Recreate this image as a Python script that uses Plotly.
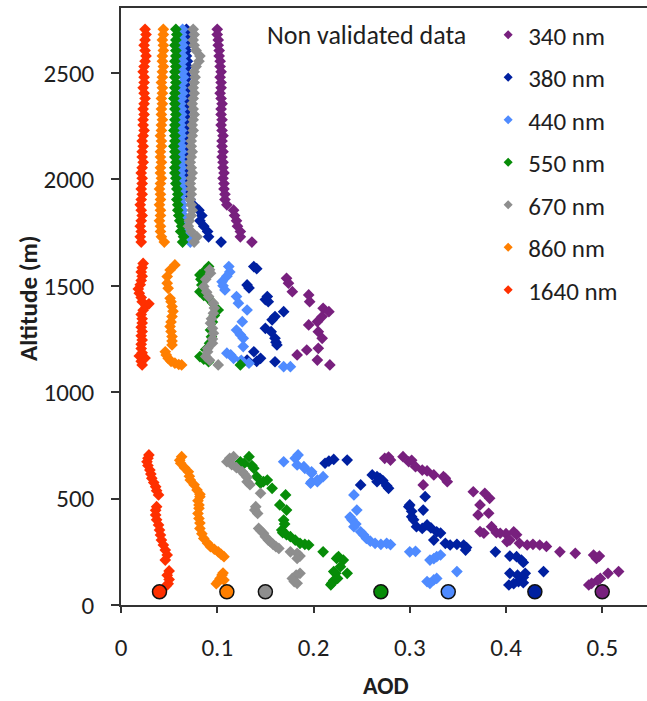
import plotly.graph_objects as go

# ---- Wavelength channels ----------------------------------------------------
WAVELENGTHS = ["340 nm", "380 nm", "440 nm", "550 nm", "670 nm", "860 nm", "1640 nm"]
COLORS = ["#78207e", "#0020a0", "#4f8bff", "#078c08", "#8e8e8e", "#ff7f00", "#ff3000"]

# ---- Lower layer profile: (AOD, altitude m) -----------------------------------
LOW_340 = [(0.274, 689), (0.278, 695), (0.280, 681), (0.293, 697), (0.299, 673), (0.302, 680),
           (0.306, 650), (0.313, 634), (0.318, 630), (0.325, 611), (0.335, 603), (0.339, 579),
           (0.337, 595), (0.314, 564), (0.366, 532), (0.378, 525), (0.383, 501), (0.373, 470),
           (0.371, 423), (0.382, 431), (0.385, 368), (0.373, 345), (0.377, 337), (0.390, 340),
           (0.394, 337), (0.400, 335), (0.408, 344), (0.411, 330), (0.401, 298), (0.404, 305),
           (0.414, 290), (0.422, 282), (0.428, 285), (0.435, 282), (0.442, 275), (0.456, 250),
           (0.472, 243), (0.494, 219), (0.491, 235), (0.497, 230), (0.506, 149), (0.517, 157),
           (0.498, 125), (0.495, 115), (0.489, 102), (0.486, 94)]
LOW_380 = [(0.212, 666), (0.216, 676), (0.221, 684), (0.235, 681), (0.249, 564), (0.261, 611),
           (0.266, 603), (0.269, 595), (0.272, 585), (0.266, 579), (0.276, 560), (0.278, 548),
           (0.316, 509), (0.314, 446), (0.299, 462), (0.300, 470), (0.302, 440), (0.302, 415),
           (0.304, 400), (0.307, 368), (0.313, 360), (0.318, 376), (0.322, 362), (0.328, 344),
           (0.332, 338), (0.325, 305), (0.337, 290), (0.342, 282), (0.349, 285), (0.356, 282),
           (0.359, 270), (0.358, 258), (0.389, 250), (0.404, 230), (0.411, 227), (0.416, 211),
           (0.418, 200), (0.439, 157), (0.404, 149), (0.412, 140), (0.420, 149), (0.418, 130),
           (0.413, 110), (0.408, 100), (0.403, 94), (0.418, 105)]
LOW_440 = [(0.169, 673), (0.184, 705), (0.181, 689), (0.183, 658), (0.190, 650), (0.191, 642),
           (0.198, 626), (0.198, 619), (0.210, 603), (0.204, 579), (0.198, 579), (0.197, 572),
           (0.204, 587), (0.242, 517), (0.245, 446), (0.238, 413), (0.240, 400), (0.242, 368),
           (0.244, 380), (0.249, 344), (0.252, 330), (0.255, 313), (0.259, 300), (0.264, 290),
           (0.270, 285), (0.276, 290), (0.280, 284), (0.300, 250), (0.306, 252), (0.328, 227),
           (0.321, 211), (0.325, 218), (0.332, 235), (0.349, 157), (0.318, 110), (0.325, 118),
           (0.321, 102), (0.328, 125)]
LOW_550 = [(0.133, 697), (0.124, 673), (0.128, 665), (0.138, 642), (0.136, 655), (0.141, 603),
           (0.145, 572), (0.152, 587), (0.148, 580), (0.157, 548), (0.171, 517), (0.165, 470),
           (0.172, 446), (0.169, 399), (0.170, 380), (0.167, 352), (0.168, 340), (0.172, 330),
           (0.176, 321), (0.181, 305), (0.186, 290), (0.191, 285), (0.195, 282), (0.210, 250),
           (0.224, 219), (0.226, 227), (0.231, 211), (0.221, 157), (0.235, 149), (0.223, 149),
           (0.228, 180), (0.219, 102), (0.221, 115), (0.225, 125), (0.218, 95)]
LOW_670 = [(0.113, 689), (0.117, 697), (0.110, 673), (0.115, 660), (0.120, 645), (0.126, 626),
           (0.128, 615), (0.131, 600), (0.131, 579), (0.134, 565), (0.145, 525), (0.140, 462),
           (0.139, 446), (0.142, 430), (0.143, 360), (0.145, 350), (0.148, 337), (0.150, 321),
           (0.153, 305), (0.155, 298), (0.158, 285), (0.161, 274), (0.164, 266), (0.176, 250),
           (0.183, 243), (0.186, 230), (0.183, 219), (0.186, 149), (0.182, 140), (0.178, 125),
           (0.180, 110), (0.183, 102)]
LOW_860 = [(0.063, 697), (0.061, 680), (0.062, 666), (0.066, 645), (0.070, 626), (0.071, 605),
           (0.072, 587), (0.076, 565), (0.079, 540), (0.082, 520), (0.082, 509), (0.080, 490),
           (0.081, 470), (0.081, 454), (0.080, 430), (0.081, 407), (0.082, 385), (0.082, 360),
           (0.084, 335), (0.086, 313), (0.090, 290), (0.093, 274), (0.097, 262), (0.101, 250),
           (0.104, 238), (0.107, 227), (0.106, 150), (0.105, 141), (0.103, 125), (0.101, 110),
           (0.107, 117), (0.099, 100)]
LOW_1640 = [(0.029, 705), (0.028, 690), (0.027, 673), (0.028, 655), (0.030, 634), (0.031, 615),
            (0.032, 595), (0.034, 575), (0.036, 556), (0.037, 537), (0.039, 517), (0.037, 462),
            (0.036, 445), (0.036, 423), (0.037, 400), (0.039, 376), (0.040, 352), (0.041, 329),
            (0.042, 305), (0.044, 282), (0.046, 258), (0.048, 235), (0.046, 211), (0.050, 160),
            (0.048, 140), (0.050, 120), (0.049, 100), (0.047, 90)]

# ---- Middle layer profile: (AOD, altitude m) ----------------------------------
MID_340 = [(0.172, 1535), (0.174, 1512), (0.178, 1472), (0.195, 1457), (0.196, 1425),
           (0.210, 1394), (0.216, 1378), (0.209, 1355), (0.204, 1331), (0.195, 1316),
           (0.205, 1284), (0.209, 1253), (0.205, 1206), (0.193, 1198), (0.183, 1175),
           (0.204, 1151), (0.217, 1128)]
MID_380 = [(0.138, 1590), (0.141, 1580), (0.131, 1504), (0.133, 1490), (0.152, 1449),
           (0.150, 1435), (0.153, 1425), (0.169, 1378), (0.160, 1355), (0.157, 1340),
           (0.150, 1300), (0.156, 1284), (0.160, 1253), (0.161, 1235), (0.162, 1222),
           (0.138, 1190), (0.145, 1159), (0.131, 1151), (0.141, 1145), (0.160, 1143)]
MID_440 = [(0.112, 1590), (0.113, 1565), (0.110, 1545), (0.105, 1519), (0.106, 1500),
           (0.108, 1480), (0.120, 1449), (0.122, 1418), (0.131, 1386), (0.126, 1331),
           (0.120, 1292), (0.124, 1270), (0.127, 1253), (0.127, 1214), (0.110, 1183),
           (0.114, 1175), (0.117, 1159), (0.125, 1150), (0.133, 1136), (0.169, 1120),
           (0.176, 1120)]
MID_550 = [(0.091, 1590), (0.088, 1575), (0.082, 1551), (0.083, 1530), (0.084, 1504),
           (0.082, 1472), (0.086, 1455), (0.091, 1440), (0.095, 1420), (0.101, 1386),
           (0.097, 1360), (0.095, 1330), (0.093, 1292), (0.094, 1260), (0.092, 1230),
           (0.088, 1200), (0.082, 1167), (0.086, 1155), (0.091, 1143), (0.124, 1128)]
MID_670 = [(0.092, 1575), (0.093, 1559), (0.088, 1530), (0.086, 1496), (0.089, 1470),
           (0.091, 1449), (0.096, 1418), (0.097, 1395), (0.096, 1371), (0.094, 1345),
           (0.093, 1324), (0.095, 1300), (0.096, 1277), (0.095, 1250), (0.095, 1230),
           (0.090, 1205), (0.090, 1190), (0.088, 1167), (0.092, 1150), (0.101, 1128)]
MID_860 = [(0.056, 1598), (0.051, 1574), (0.048, 1543), (0.048, 1512), (0.049, 1488),
           (0.051, 1441), (0.052, 1425), (0.053, 1402), (0.054, 1380), (0.053, 1355),
           (0.052, 1330), (0.051, 1308), (0.052, 1285), (0.053, 1261), (0.053, 1240),
           (0.053, 1222), (0.046, 1190), (0.047, 1175), (0.049, 1159), (0.052, 1145),
           (0.056, 1136), (0.060, 1130), (0.063, 1128)]
MID_1640 = [(0.022, 1128), (0.021, 1145), (0.025, 1160), (0.019, 1170), (0.022, 1185),
            (0.021, 1205), (0.021, 1225), (0.022, 1245), (0.021, 1265), (0.022, 1285),
            (0.021, 1305), (0.022, 1325), (0.022, 1345), (0.021, 1365), (0.023, 1385),
            (0.026, 1405), (0.029, 1415), (0.022, 1425), (0.021, 1445), (0.019, 1465),
            (0.018, 1485), (0.020, 1505), (0.021, 1525), (0.022, 1545), (0.021, 1565),
            (0.022, 1585), (0.023, 1605)]

# ---- Upper layer profile: common altitude samples and AOD per channel -------
HIGH_ALT = [1705, 1730, 1755, 1780, 1805, 1830, 1855, 1880, 1905, 1930, 1955, 1980, 2005, 2030,
            2055, 2080, 2105, 2130, 2155, 2180, 2205, 2230, 2255, 2280, 2305, 2330, 2355, 2380,
            2405, 2430, 2455, 2480, 2505, 2530, 2555, 2580, 2605, 2630, 2655, 2680, 2705]
HIGH_340 = [0.136, 0.124, 0.124, 0.121, 0.120, 0.118, 0.117, 0.110, 0.108, 0.108, 0.107, 0.107,
            0.106, 0.107, 0.106, 0.106, 0.105, 0.106, 0.105, 0.105, 0.106, 0.105, 0.104, 0.105,
            0.104, 0.104, 0.105, 0.104, 0.103, 0.104, 0.104, 0.103, 0.104, 0.103, 0.103, 0.102,
            0.102, 0.101, 0.101, 0.100, 0.100]
HIGH_380 = [0.104, 0.091, 0.090, 0.086, 0.082, 0.084, 0.081, 0.075, 0.072, 0.070, 0.069, 0.069,
            0.068, 0.069, 0.069, 0.068, 0.069, 0.069, 0.068, 0.068, 0.069, 0.068, 0.069, 0.068,
            0.068, 0.069, 0.068, 0.068, 0.069, 0.069, 0.068, 0.069, 0.068, 0.069, 0.069, 0.068,
            0.068, 0.069, 0.068, 0.069, 0.068]
HIGH_440 = [0.072, 0.074, 0.070, 0.068, 0.066, 0.065, 0.064, 0.064, 0.063, 0.063, 0.064, 0.063,
            0.063, 0.062, 0.063, 0.063, 0.062, 0.063, 0.063, 0.062, 0.063, 0.063, 0.062, 0.063,
            0.063, 0.063, 0.062, 0.063, 0.064, 0.063, 0.064, 0.065, 0.064, 0.063, 0.064, 0.064,
            0.063, 0.064, 0.064, 0.063, 0.064]
HIGH_550 = [0.064, 0.065, 0.062, 0.063, 0.061, 0.060, 0.059, 0.059, 0.058, 0.059, 0.058, 0.057,
            0.057, 0.056, 0.056, 0.057, 0.056, 0.056, 0.055, 0.056, 0.056, 0.055, 0.056, 0.056,
            0.057, 0.056, 0.056, 0.055, 0.056, 0.056, 0.057, 0.056, 0.056, 0.057, 0.056, 0.057,
            0.057, 0.056, 0.057, 0.058, 0.057]
HIGH_670 = [0.076, 0.079, 0.073, 0.070, 0.071, 0.073, 0.074, 0.073, 0.072, 0.073, 0.073, 0.072,
            0.073, 0.074, 0.073, 0.072, 0.073, 0.074, 0.073, 0.073, 0.074, 0.075, 0.074, 0.075,
            0.076, 0.075, 0.074, 0.075, 0.076, 0.075, 0.076, 0.077, 0.076, 0.078, 0.081, 0.082,
            0.078, 0.076, 0.075, 0.076, 0.075]
HIGH_860 = [0.045, 0.042, 0.041, 0.041, 0.040, 0.041, 0.041, 0.040, 0.041, 0.041, 0.040, 0.041,
            0.042, 0.041, 0.041, 0.042, 0.041, 0.041, 0.042, 0.042, 0.041, 0.042, 0.042, 0.043,
            0.042, 0.042, 0.043, 0.042, 0.043, 0.043, 0.042, 0.043, 0.043, 0.044, 0.043, 0.043,
            0.044, 0.044, 0.043, 0.044, 0.044]
HIGH_1640 = [0.021, 0.020, 0.021, 0.020, 0.021, 0.022, 0.021, 0.020, 0.021, 0.022, 0.021, 0.022,
             0.022, 0.021, 0.022, 0.023, 0.022, 0.022, 0.023, 0.022, 0.023, 0.024, 0.023, 0.023,
             0.024, 0.023, 0.024, 0.025, 0.024, 0.023, 0.024, 0.024, 0.023, 0.024, 0.025, 0.026,
             0.025, 0.024, 0.025, 0.026, 0.025]

# ---- Ground station AOD (circles) ---------------------------------------------
GROUND_AOD = [0.50, 0.43, 0.34, 0.27, 0.15, 0.11, 0.04]
GROUND_ALT = 62

LOW = [LOW_340, LOW_380, LOW_440, LOW_550, LOW_670, LOW_860, LOW_1640]
MID = [MID_340, MID_380, MID_440, MID_550, MID_670, MID_860, MID_1640]
HIGH = [HIGH_340, HIGH_380, HIGH_440, HIGH_550, HIGH_670, HIGH_860, HIGH_1640]

FONT = "Carlito, Lato, 'Open Sans', sans-serif"
TEXT = "#1e1e1e"
FS = 25

fig = go.Figure()

for name, color, low, mid, high in zip(WAVELENGTHS, COLORS, LOW, MID, HIGH):
    xs = [p[0] for p in low] + [p[0] for p in mid] + list(high)
    ys = [p[1] for p in low] + [p[1] for p in mid] + list(HIGH_ALT)
    fig.add_trace(go.Scatter(
        x=xs, y=ys, mode="markers", name=name, showlegend=False,
        marker=dict(symbol="diamond", size=9, color=color, line=dict(width=0)),
    ))

# legend entries (smaller symbols than the data markers)
for i, (name, color) in enumerate(zip(WAVELENGTHS, COLORS)):
    fig.add_trace(go.Scatter(
        x=[None], y=[None], mode="markers", name=name, legendgroup=f"g{i}",
        marker=dict(symbol="diamond", size=7, color=color),
    ))

fig.add_trace(go.Scatter(
    x=GROUND_AOD, y=[GROUND_ALT] * len(GROUND_AOD), mode="markers", showlegend=False,
    marker=dict(symbol="circle", size=14, color=COLORS, line=dict(width=1.5, color="#111111")),
))

fig.update_layout(
    width=647, height=701,
    margin=dict(l=121, r=0, t=8, b=96),
    paper_bgcolor="white", plot_bgcolor="white",
    font=dict(family=FONT, size=FS, color=TEXT),
    legend=dict(
        x=0.698, y=(605 - 12) / 597, xanchor="left", yanchor="top",
        bgcolor="rgba(0,0,0,0)", tracegroupgap=7,
        font=dict(family=FONT, size=FS, color=TEXT),
    ),
    xaxis=dict(
        range=[0, 0.5465], tickvals=[0, 0.1, 0.2, 0.3, 0.4, 0.5],
        showgrid=False, zeroline=False, showline=True, linecolor="#333333", linewidth=1.5,
        mirror=True, ticks="outside", ticklen=6, tickcolor="#333333", tickwidth=1.5,
        ticklabelstandoff=13, tickfont=dict(family=FONT, size=FS, color=TEXT),
    ),
    yaxis=dict(
        range=[0, 2805], tickvals=[0, 500, 1000, 1500, 2000, 2500],
        showgrid=False, zeroline=False, showline=True, linecolor="#333333", linewidth=1.5,
        ticks="outside", ticklen=8, tickcolor="#333333", tickwidth=1.5,
        ticklabelstandoff=12, tickfont=dict(family=FONT, size=FS, color=TEXT),
    ),
    annotations=[
        dict(text="Non validated data", xref="paper", yref="paper",
             x=(265 - 121) / 526, y=(605 - 35) / 597, xanchor="left", yanchor="middle",
             showarrow=False, font=dict(family=FONT, size=26, color=TEXT)),
        dict(text="<b>Altitude (m)</b>", xref="paper", yref="paper",
             x=(28 - 121) / 526, y=(605 - 298) / 597, xanchor="center", yanchor="middle",
             textangle=-90, showarrow=False, font=dict(family=FONT, size=FS, color=TEXT)),
        dict(text="<b>AOD</b>", xref="paper", yref="paper",
             x=(386 - 121) / 526, y=(605 - 685) / 597, xanchor="center", yanchor="middle",
             showarrow=False, font=dict(family=FONT, size=24, color=TEXT)),
    ],
)

fig.write_html("out.html")
